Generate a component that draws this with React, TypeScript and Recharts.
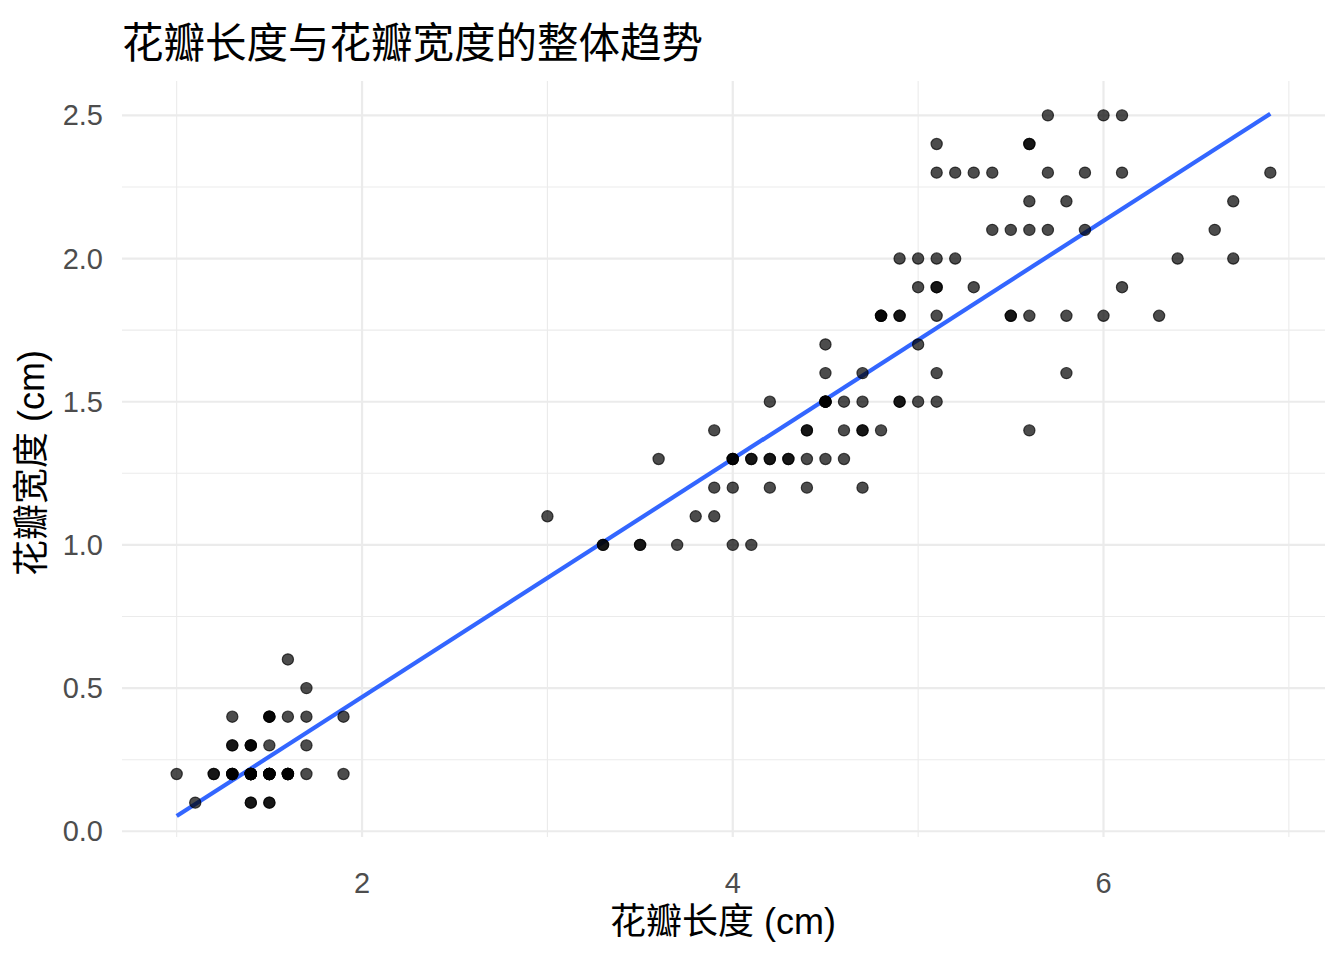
import React from "react";
import {
  ScatterChart,
  Scatter,
  XAxis,
  YAxis,
  ReferenceLine,
} from "recharts";

// iris: petal length / petal width (cm), setosa, versicolor, virginica
const petalLength = [
  1.4, 1.4, 1.3, 1.5, 1.4, 1.7, 1.4, 1.5, 1.4, 1.5, 1.5, 1.6, 1.4, 1.1, 1.2, 1.5, 1.3, 1.4, 1.7, 1.5,
  1.7, 1.5, 1.0, 1.7, 1.9, 1.6, 1.6, 1.5, 1.4, 1.6, 1.6, 1.5, 1.5, 1.4, 1.5, 1.2, 1.3, 1.4, 1.3, 1.5,
  1.3, 1.3, 1.3, 1.6, 1.9, 1.4, 1.6, 1.4, 1.5, 1.4,
  4.7, 4.5, 4.9, 4.0, 4.6, 4.5, 4.7, 3.3, 4.6, 3.9, 3.5, 4.2, 4.0, 4.7, 3.6, 4.4, 4.5, 4.1, 4.5, 3.9,
  4.8, 4.0, 4.9, 4.7, 4.3, 4.4, 4.8, 5.0, 4.5, 3.5, 3.8, 3.7, 3.9, 5.1, 4.5, 4.5, 4.7, 4.4, 4.1, 4.0,
  4.4, 4.6, 4.0, 3.3, 4.2, 4.2, 4.2, 4.3, 3.0, 4.1,
  6.0, 5.1, 5.9, 5.6, 5.8, 6.6, 4.5, 6.3, 5.8, 6.1, 5.1, 5.3, 5.5, 5.0, 5.1, 5.3, 5.5, 6.7, 6.9, 5.0,
  5.7, 4.9, 6.7, 4.9, 5.7, 6.0, 4.8, 4.9, 5.6, 5.8, 6.1, 6.4, 5.6, 5.1, 5.6, 6.1, 5.6, 5.5, 4.8, 5.4,
  5.6, 5.1, 5.1, 5.9, 5.7, 5.2, 5.0, 5.2, 5.4, 5.1,
];

const petalWidth = [
  0.2, 0.2, 0.2, 0.2, 0.2, 0.4, 0.3, 0.2, 0.2, 0.1, 0.2, 0.2, 0.1, 0.1, 0.2, 0.4, 0.4, 0.3, 0.3, 0.3,
  0.2, 0.4, 0.2, 0.5, 0.2, 0.2, 0.4, 0.2, 0.2, 0.2, 0.2, 0.4, 0.1, 0.2, 0.2, 0.2, 0.2, 0.1, 0.2, 0.2,
  0.3, 0.3, 0.2, 0.6, 0.4, 0.3, 0.2, 0.2, 0.2, 0.2,
  1.4, 1.5, 1.5, 1.3, 1.5, 1.3, 1.6, 1.0, 1.3, 1.4, 1.0, 1.5, 1.0, 1.4, 1.3, 1.4, 1.5, 1.0, 1.5, 1.1,
  1.8, 1.3, 1.5, 1.2, 1.3, 1.4, 1.4, 1.7, 1.5, 1.0, 1.1, 1.0, 1.2, 1.6, 1.5, 1.6, 1.5, 1.3, 1.3, 1.3,
  1.2, 1.4, 1.2, 1.0, 1.3, 1.2, 1.3, 1.3, 1.1, 1.3,
  2.5, 1.9, 2.1, 1.8, 2.2, 2.1, 1.7, 1.8, 1.8, 2.5, 2.0, 1.9, 2.1, 2.0, 2.4, 2.3, 1.8, 2.2, 2.3, 1.5,
  2.3, 2.0, 2.0, 1.8, 2.1, 1.8, 1.8, 1.8, 2.1, 1.6, 1.9, 2.0, 2.2, 1.5, 1.4, 2.3, 2.4, 1.8, 1.8, 2.1,
  2.4, 2.3, 1.9, 2.3, 2.5, 2.3, 1.9, 2.0, 2.3, 1.8,
];

// fitted linear trend, read at the ends of the data range
const trendX = [1.0, 6.9];
const trendY = [0.053, 2.506];

const xTicks = [2, 4, 6];
const xMinor = [1, 3, 5, 7];
const yTicks = [0, 0.5, 1.0, 1.5, 2.0, 2.5];
const yMinor = [0.25, 0.75, 1.25, 1.75, 2.25];

const points = petalLength.map((x, i) => ({ x, y: petalWidth[i] }));
const trend = trendX.map((x, i) => ({ x, y: trendY[i] }));

const latin = '"Liberation Sans", Arial, "Noto Sans CJK SC", sans-serif';
const cjk = '"Noto Sans CJK SC", "Liberation Sans", sans-serif';

const Dot = (props: any) => (
  <circle
    cx={props.cx}
    cy={props.cy}
    r={5.6}
    fill="#000"
    fillOpacity={0.7}
    stroke="#000"
    strokeOpacity={0.7}
    strokeWidth={1.2}
  />
);

const XTick = (props: any) => (
  <text
    x={props.x}
    y={props.y + 46}
    textAnchor="middle"
    dominantBaseline="central"
    fill="#4d4d4d"
    fontSize={29}
    fontFamily={latin}
  >
    {props.payload.value}
  </text>
);

const YTick = (props: any) => (
  <text
    x={props.x - 19}
    y={props.y}
    textAnchor="end"
    dominantBaseline="central"
    fill="#4d4d4d"
    fontSize={29}
    fontFamily={latin}
  >
    {Number(props.payload.value).toFixed(1)}
  </text>
);

export default function App() {
  return (
    <div
      style={{
        position: "absolute",
        left: 0,
        top: 0,
        width: 1344,
        height: 960,
        background: "#fff",
      }}
    >
      <ScatterChart
        width={1344}
        height={960}
        margin={{ top: 81, right: 19, left: 0, bottom: 0 }}
      >
        {xMinor.map((v) => (
          <ReferenceLine key={"mx" + v} x={v} stroke="#ebebeb" strokeWidth={1.1} />
        ))}
        {yMinor.map((v) => (
          <ReferenceLine key={"my" + v} y={v} stroke="#ebebeb" strokeWidth={1.1} />
        ))}
        {xTicks.map((v) => (
          <ReferenceLine key={"gx" + v} x={v} stroke="#ebebeb" strokeWidth={2.2} />
        ))}
        {yTicks.map((v) => (
          <ReferenceLine key={"gy" + v} y={v} stroke="#ebebeb" strokeWidth={2.2} />
        ))}
        <XAxis
          type="number"
          dataKey="x"
          domain={[0.705, 7.195]}
          allowDataOverflow
          ticks={xTicks}
          height={123}
          axisLine={false}
          tickLine={false}
          tickSize={0}
          tickMargin={0}
          tick={XTick}
        />
        <YAxis
          type="number"
          dataKey="y"
          domain={[-0.02, 2.62]}
          allowDataOverflow
          ticks={yTicks}
          width={122}
          axisLine={false}
          tickLine={false}
          tickSize={0}
          tickMargin={0}
          tick={YTick}
        />
        <Scatter data={points} shape={Dot} isAnimationActive={false} />
        <ReferenceLine
          segment={trend}
          stroke="#3366ff"
          strokeWidth={4.2}
          ifOverflow="visible"
        />
      </ScatterChart>
      <div
        style={{
          position: "absolute",
          left: 122,
          top: 19,
          fontFamily: cjk,
          fontSize: 41.5,
          lineHeight: "42px",
          color: "#000",
          whiteSpace: "nowrap",
        }}
      >
        花瓣长度与花瓣宽度的整体趋势
      </div>
      <div
        style={{
          position: "absolute",
          left: 723,
          top: 922,
          transform: "translate(-50%, -50%)",
          fontFamily: latin,
          fontSize: 36,
          lineHeight: "40px",
          color: "#000",
          whiteSpace: "nowrap",
        }}
      >
        花瓣长度 (cm)
      </div>
      <div
        style={{
          position: "absolute",
          left: 32,
          top: 463,
          transform: "translate(-50%, -50%) rotate(-90deg)",
          fontFamily: latin,
          fontSize: 36,
          lineHeight: "40px",
          color: "#000",
          whiteSpace: "nowrap",
        }}
      >
        花瓣宽度 (cm)
      </div>
    </div>
  );
}
